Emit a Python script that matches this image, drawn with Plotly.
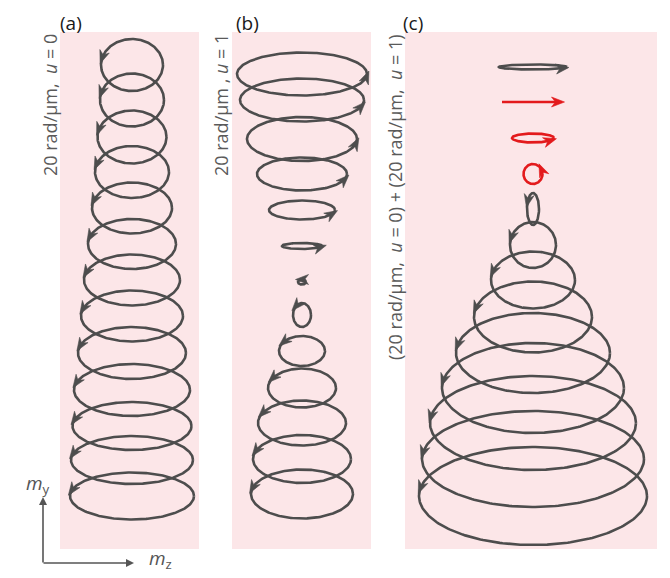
import numpy as np
import plotly.graph_objects as go

# precession orbits, top to bottom; levels = depth below panel top, hw/hh = half-axes
a_levels = [33, 68, 105, 140, 176, 212, 248, 284, 321, 358, 394, 428, 464]
a_hw = [31, 32, 34.5, 37, 40, 44, 48, 51, 54, 58, 59.5, 61, 62]
a_hh = [26, 26.5, 26.5, 26, 25.5, 25, 25.5, 25.5, 26, 26, 24, 24, 23.5]
a_arrow = [163, 163, 163, 162, 162, 162, 162, 163, 163, 163, 164, 164, 165]

b_levels = [42, 68, 107, 142, 178, 214, 250, 283, 319, 356, 391, 427, 462]
b_hw = [65, 62, 55, 45, 33, 20, 4, 9, 23, 34, 44, 49, 51]
b_hh = [21.5, 21.5, 22, 16.5, 9.5, 3, 2.5, 12, 15, 19.5, 22.5, 24, 24.5]
b_arrow = [-8, -18, -12, -20, -25, -25, 90, 130, 142, 149, 153, 160, 165]

c_levels = [35, 70, 106, 142, 177, 213, 248, 285, 321, 356, 391, 427, 464]
c_hw = [34, 31, 21, 9.5, 6, 23, 42, 59, 77, 91, 103, 111, 114]
c_hh = [2.5, 0, 4.5, 10, 16, 23, 28.5, 35.5, 40, 45, 47, 48, 49]
c_arrow = [-30, -10, -35, 25, 150, 160, 162, 165, 168, 170, 172, 172, 170]
c_red = [False, True, True, True, False, False, False, False, False, False, False, False, False]

panel_labels = ['(a)', '(b)', '(c)']
side_labels = ['20 rad/μm,\u00a0\u00a0<i>u</i> = 0',
               '20 rad/μm , <i>u</i> = 1',
               '(20 rad/μm,\u00a0\u00a0<i>u</i> = 0) + (20 rad/μm,\u00a0\u00a0<i>u</i> = 1)']

GRAY = '#4d4d4d'
RED = '#e31a1c'
PINK = '#fce6e8'
W, H = 670, 578
OFF = 8  # page body margin


def px_x(v):
    return (v - OFF) / W


def px_y(v):
    return 1 - (v - OFF) / H


fig = go.Figure()

panels = [
    (a_levels, a_hw, a_hh, a_arrow, [False] * 13, 'x', 'y'),
    (b_levels, b_hw, b_hh, b_arrow, [False] * 13, 'x2', 'y2'),
    (c_levels, c_hw, c_hh, c_arrow, c_red, 'x3', 'y3'),
]

t = np.linspace(0, 2 * np.pi, 240)
for levels, hws, hhs, arrows, reds, xa, ya in panels:
    for lv, hw, hh, ang, red in zip(levels, hws, hhs, arrows, reds):
        col = RED if red else GRAY
        if hh == 0:
            xs, ys = [-hw, hw - 4], [lv, lv]
        else:
            xs = hw * np.cos(t)
            ys = lv - hh * np.sin(t)
        fig.add_trace(go.Scatter(x=xs, y=ys, mode='lines', xaxis=xa, yaxis=ya,
                                 line=dict(color=col, width=2.6), hoverinfo='skip',
                                 showlegend=False))
        # arrowhead (axes are 1 unit per pixel, y grows downward)
        r = np.radians(ang)
        cx, cy = hw * np.cos(r), lv - hh * np.sin(r)
        ux, uy = -hw * np.sin(r), -hh * np.cos(r)
        if hh == 0:
            cx, cy, ux, uy = hw - 6, lv, 1.0, 0.0
        norm = np.hypot(ux, uy)
        ux, uy = ux / norm, uy / norm
        nx, ny = -uy, ux
        L, Wd = 6.5, 5.0
        hx = [cx + L * ux, cx - L * ux + Wd * nx, cx - 0.4 * L * ux, cx - L * ux - Wd * nx,
              cx + L * ux]
        hy = [cy + L * uy, cy - L * uy + Wd * ny, cy - 0.4 * L * uy, cy - L * uy - Wd * ny,
              cy + L * uy]
        fig.add_trace(go.Scatter(x=hx, y=hy, mode='lines', fill='toself', fillcolor=col,
                                 line=dict(width=0.6, color=col), xaxis=xa, yaxis=ya,
                                 hoverinfo='skip', showlegend=False))

x_doms = [(60, 199, -72, 67), (232, 371, -70, 69), (405, 657, -128, 124)]
y_dom = [px_y(549), px_y(32)]
for i, (x0, x1, r0, r1) in enumerate(x_doms):
    sfx = '' if i == 0 else str(i + 1)
    fig.layout['xaxis' + sfx] = dict(domain=[px_x(x0), px_x(x1)], range=[r0, r1],
                                      visible=False, anchor='y' + sfx)
    fig.layout['yaxis' + sfx] = dict(domain=y_dom, range=[517, 0], visible=False,
                                      anchor='x' + sfx)

anns = []
label_x = [58, 234, 401]
side_x = [50, 221, 395]
for lab, lx, side, sx in zip(panel_labels, label_x, side_labels, side_x):
    anns.append(dict(text=lab, x=px_x(lx), y=px_y(8), xref='paper', yref='paper',
                     xanchor='left', yanchor='top', showarrow=False,
                     font=dict(size=19, color='#1a1a1a')))
    anns.append(dict(text=side, x=px_x(sx), y=px_y(32), xref='paper', yref='paper',
                     xanchor='center', yanchor='top', textangle=-90, showarrow=False,
                     font=dict(size=18, color='#5a5a5a')))

# m_y / m_z axis indicator
anns.append(dict(x=px_x(43), y=px_y(497), xref='paper', yref='paper', ax=0, ay=67,
                 text='', showarrow=True, arrowhead=2, arrowsize=1, arrowwidth=1.6,
                 arrowcolor='#555555'))
anns.append(dict(x=px_x(134), y=px_y(563), xref='paper', yref='paper', ax=-92, ay=0,
                 text='', showarrow=True, arrowhead=2, arrowsize=1, arrowwidth=1.6,
                 arrowcolor='#555555'))
anns.append(dict(text='<i>m</i><sub>y</sub>', x=px_x(24), y=px_y(500), xref='paper',
                 yref='paper', showarrow=False, font=dict(size=19, color='#555555')))
anns.append(dict(text='<i>m</i><sub>z</sub>', x=px_x(147), y=px_y(575), xref='paper',
                 yref='paper', showarrow=False, font=dict(size=19, color='#555555')))

fig.update_layout(width=W, height=H, margin=dict(l=0, r=0, t=0, b=0, autoexpand=False),
                  paper_bgcolor='white', plot_bgcolor=PINK,
                  font=dict(family='Open Sans'), annotations=anns)

fig.write_html('out.html')
